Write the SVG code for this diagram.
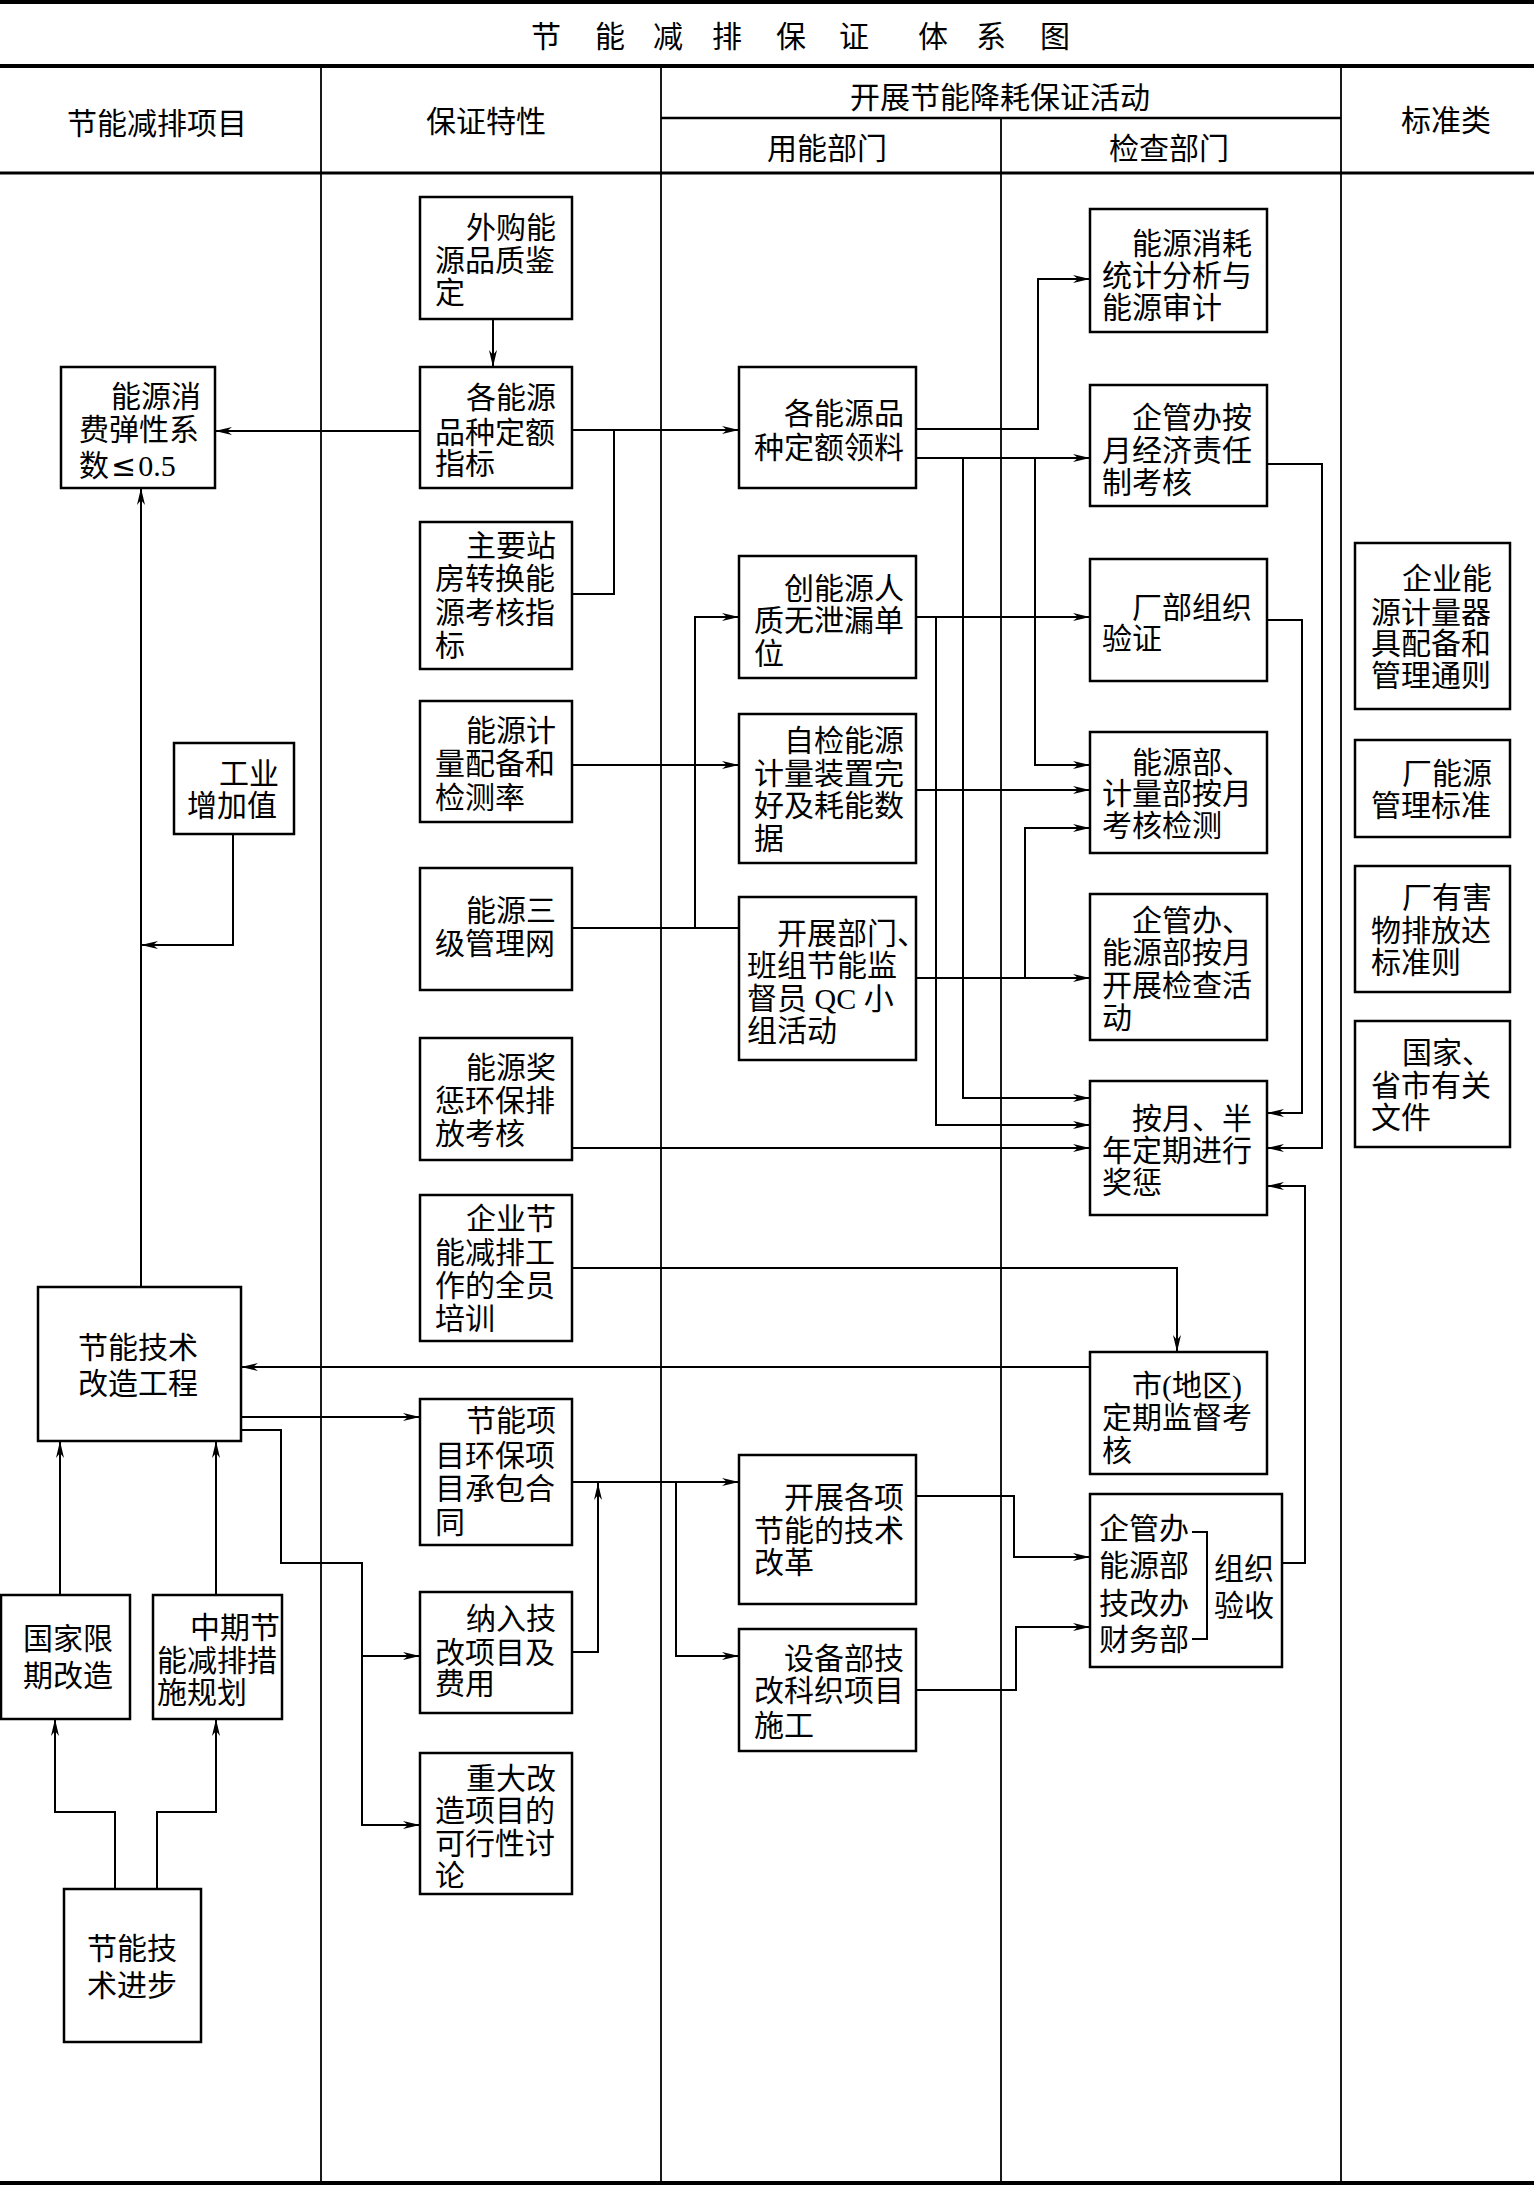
<svg xmlns="http://www.w3.org/2000/svg" width="1534" height="2186" viewBox="0 0 1534 2186">
<style>
text{font-family:"Liberation Serif","Noto Sans CJK SC",serif;font-size:30px;fill:#000}
.hd{font-size:30px}
.sym{font-family:"DejaVu Sans",sans-serif}
.box{fill:#fff;stroke:#000;stroke-width:2.5}
.frame{stroke:#000;fill:none}
.cn{fill:none;stroke:#000;stroke-width:2}
.ar{fill:none;stroke:#000;stroke-width:2;marker-end:url(#ah)}
</style>
<defs>
<marker id="ah" markerWidth="18" markerHeight="8" refX="17" refY="4" orient="auto" markerUnits="userSpaceOnUse">
<path d="M0,0 L17,4 L0,8 L5,4 z" fill="#000"/>
</marker>
</defs>
<rect width="1534" height="2186" fill="#fff"/>

<g id="frame">
<line class="frame" x1="0" y1="2" x2="1534" y2="2" stroke-width="4"/>
<line class="frame" x1="0" y1="66" x2="1534" y2="66" stroke-width="4"/>
<line class="frame" x1="661" y1="118" x2="1341" y2="118" stroke-width="2.5"/>
<line class="frame" x1="0" y1="173" x2="1534" y2="173" stroke-width="3"/>
<line class="frame" x1="0" y1="2183" x2="1534" y2="2183" stroke-width="4"/>
<line class="frame" x1="321" y1="66" x2="321" y2="2183" stroke-width="1.8"/>
<line class="frame" x1="661" y1="66" x2="661" y2="2183" stroke-width="1.8"/>
<line class="frame" x1="1001" y1="118" x2="1001" y2="2183" stroke-width="1.8"/>
<line class="frame" x1="1341" y1="66" x2="1341" y2="2183" stroke-width="1.8"/>
<text x="531 595 653 712 776 839 918 976 1040" y="47" font-size="28">节能减排保证体系图</text>
<text class="hd" x="157" y="134" text-anchor="middle">节能减排项目</text>
<text class="hd" x="486" y="132" text-anchor="middle">保证特性</text>
<text class="hd" x="1000" y="108" text-anchor="middle">开展节能降耗保证活动</text>
<text class="hd" x="827" y="159" text-anchor="middle">用能部门</text>
<text class="hd" x="1169" y="159" text-anchor="middle">检查部门</text>
<text class="hd" x="1446" y="131" text-anchor="middle">标准类</text>
</g>

<g id="connectors">
<path class="ar" d="M493,319 V367"/>
<path class="ar" d="M420,431 H215"/>
<path class="ar" d="M572,430 H739"/>
<path class="cn" d="M572,594 H614 V430"/>
<path class="ar" d="M916,429 H1038 V279 H1090"/>
<path class="ar" d="M916,458 H1090"/>
<path class="ar" d="M963,458 V1098 H1090"/>
<path class="ar" d="M1035,458 V765 H1090"/>
<path class="ar" d="M1267,464 H1322 V1148 H1267"/>
<path class="ar" d="M1267,620 H1302 V1113 H1267"/>
<path class="ar" d="M916,617 H1090"/>
<path class="ar" d="M936,617 V1125 H1090"/>
<path class="ar" d="M572,928 H695 V617 H739"/>
<path class="cn" d="M695,928 H739"/>
<path class="ar" d="M572,765 H739"/>
<path class="ar" d="M916,790 H1090"/>
<path class="ar" d="M916,978 H1090"/>
<path class="ar" d="M1025,978 V828 H1090"/>
<path class="ar" d="M572,1148 H1090"/>
<path class="ar" d="M1282,1563 H1305 V1186 H1267"/>
<path class="ar" d="M572,1268 H1177 V1352"/>
<path class="ar" d="M1090,1367 H241"/>
<path class="ar" d="M141,1287 V488"/>
<path class="ar" d="M233,834 V945 H141"/>
<path class="ar" d="M241,1417 H420"/>
<path class="ar" d="M241,1430 H281 V1563 H362 V1825 H420"/>
<path class="ar" d="M362,1656 H420"/>
<path class="ar" d="M572,1652 H598 V1483"/>
<path class="ar" d="M572,1482 H739"/>
<path class="ar" d="M676,1482 V1656 H739"/>
<path class="ar" d="M916,1496 H1014 V1557 H1090"/>
<path class="ar" d="M916,1690 H1016 V1627 H1090"/>
<path class="ar" d="M60,1595 V1441"/>
<path class="ar" d="M216,1595 V1441"/>
<path class="ar" d="M115,1889 V1812 H55 V1719"/>
<path class="ar" d="M157,1889 V1812 H216 V1719"/>
</g>

<g id="n_ec"><rect class="box" x="61" y="367" width="154" height="121"/>
<text><tspan x="111" y="407">能源消</tspan><tspan x="79" y="440">费弹性系</tspan><tspan x="79" y="476">数</tspan><tspan class="sym" dx="2">≤</tspan><tspan dx="2">0.5</tspan></text></g>
<g id="n_gy"><rect class="box" x="174" y="743" width="120" height="91"/>
<text><tspan x="219" y="784">工业</tspan><tspan x="187" y="816">增加值</tspan></text></g>
<g id="n_jg"><rect class="box" x="38" y="1287" width="203" height="154"/>
<text><tspan x="78" y="1358">节能技术</tspan><tspan x="78" y="1394">改造工程</tspan></text></g>
<g id="n_gj"><rect class="box" x="1" y="1595" width="129" height="124"/>
<text><tspan x="23" y="1649">国家限</tspan><tspan x="23" y="1686">期改造</tspan></text></g>
<g id="n_zq"><rect class="box" x="153" y="1595" width="129" height="124"/>
<text><tspan x="190" y="1638">中期节</tspan><tspan x="157" y="1671">能减排措</tspan><tspan x="157" y="1703">施规划</tspan></text></g>
<g id="n_jb"><rect class="box" x="64" y="1889" width="137" height="153"/>
<text text-anchor="middle"><tspan x="132" y="1959">节能技</tspan><tspan x="132" y="1996">术进步</tspan></text></g>

<g id="n_wg"><rect class="box" x="420" y="197" width="152" height="122"/>
<text><tspan x="466" y="238">外购能</tspan><tspan x="435" y="271">源品质鉴</tspan><tspan x="435" y="303">定</tspan></text></g>
<g id="n_gn"><rect class="box" x="420" y="367" width="152" height="121"/>
<text><tspan x="466" y="408">各能源</tspan><tspan x="435" y="443">品种定额</tspan><tspan x="435" y="474">指标</tspan></text></g>
<g id="n_zy"><rect class="box" x="420" y="522" width="152" height="147"/>
<text><tspan x="466" y="556">主要站</tspan><tspan x="435" y="589">房转换能</tspan><tspan x="435" y="623">源考核指</tspan><tspan x="435" y="656">标</tspan></text></g>
<g id="n_jl"><rect class="box" x="420" y="701" width="152" height="121"/>
<text><tspan x="466" y="741">能源计</tspan><tspan x="435" y="774">量配备和</tspan><tspan x="435" y="808">检测率</tspan></text></g>
<g id="n_sj"><rect class="box" x="420" y="868" width="152" height="122"/>
<text><tspan x="466" y="921">能源三</tspan><tspan x="435" y="954">级管理网</tspan></text></g>
<g id="n_jc"><rect class="box" x="420" y="1038" width="152" height="122"/>
<text><tspan x="466" y="1078">能源奖</tspan><tspan x="435" y="1111">惩环保排</tspan><tspan x="435" y="1144">放考核</tspan></text></g>
<g id="n_px"><rect class="box" x="420" y="1195" width="152" height="146"/>
<text><tspan x="466" y="1229">企业节</tspan><tspan x="435" y="1263">能减排工</tspan><tspan x="435" y="1296">作的全员</tspan><tspan x="435" y="1329">培训</tspan></text></g>
<g id="n_xm"><rect class="box" x="420" y="1399" width="152" height="146"/>
<text><tspan x="466" y="1431">节能项</tspan><tspan x="435" y="1466">目环保项</tspan><tspan x="435" y="1499">目承包合</tspan><tspan x="435" y="1533">同</tspan></text></g>
<g id="n_nr"><rect class="box" x="420" y="1592" width="152" height="121"/>
<text><tspan x="466" y="1629">纳入技</tspan><tspan x="435" y="1663">改项目及</tspan><tspan x="435" y="1694">费用</tspan></text></g>
<g id="n_zd"><rect class="box" x="420" y="1753" width="152" height="141"/>
<text><tspan x="466" y="1789">重大改</tspan><tspan x="435" y="1821">造项目的</tspan><tspan x="435" y="1854">可行性讨</tspan><tspan x="435" y="1886">论</tspan></text></g>

<g id="n_ll"><rect class="box" x="739" y="367" width="177" height="121"/>
<text><tspan x="784" y="424">各能源品</tspan><tspan x="754" y="458">种定额领料</tspan></text></g>
<g id="n_cn"><rect class="box" x="739" y="556" width="177" height="122"/>
<text><tspan x="784" y="599">创能源人</tspan><tspan x="754" y="631">质无泄漏单</tspan><tspan x="754" y="664">位</tspan></text></g>
<g id="n_zj"><rect class="box" x="739" y="714" width="177" height="149"/>
<text><tspan x="784" y="751">自检能源</tspan><tspan x="754" y="784">计量装置完</tspan><tspan x="754" y="816">好及耗能数</tspan><tspan x="754" y="849">据</tspan></text></g>
<g id="n_kz"><rect class="box" x="739" y="897" width="177" height="163"/>
<text><tspan x="777" y="944">开展部门、</tspan><tspan x="747" y="976">班组节能监</tspan><tspan x="747" y="1009">督员 QC 小</tspan><tspan x="747" y="1041">组活动</tspan></text></g>
<g id="n_gx"><rect class="box" x="739" y="1455" width="177" height="149"/>
<text><tspan x="784" y="1508">开展各项</tspan><tspan x="754" y="1541">节能的技术</tspan><tspan x="754" y="1573">改革</tspan></text></g>
<g id="n_sb"><rect class="box" x="739" y="1629" width="177" height="122"/>
<text><tspan x="784" y="1669">设备部技</tspan><tspan x="754" y="1701">改科织项目</tspan><tspan x="754" y="1736">施工</tspan></text></g>

<g id="n_xh"><rect class="box" x="1090" y="209" width="177" height="123"/>
<text><tspan x="1132" y="254">能源消耗</tspan><tspan x="1102" y="286">统计分析与</tspan><tspan x="1102" y="318">能源审计</tspan></text></g>
<g id="n_qg"><rect class="box" x="1090" y="385" width="177" height="121"/>
<text><tspan x="1132" y="428">企管办按</tspan><tspan x="1102" y="461">月经济责任</tspan><tspan x="1102" y="493">制考核</tspan></text></g>
<g id="n_cb"><rect class="box" x="1090" y="559" width="177" height="122"/>
<text><tspan x="1132" y="618">厂部组织</tspan><tspan x="1102" y="649">验证</tspan></text></g>
<g id="n_nb"><rect class="box" x="1090" y="732" width="177" height="121"/>
<text><tspan x="1132" y="773">能源部、</tspan><tspan x="1102" y="804">计量部按月</tspan><tspan x="1102" y="836">考核检测</tspan></text></g>
<g id="n_qn"><rect class="box" x="1090" y="894" width="177" height="146"/>
<text><tspan x="1132" y="931">企管办、</tspan><tspan x="1102" y="963">能源部按月</tspan><tspan x="1102" y="996">开展检查活</tspan><tspan x="1102" y="1028">动</tspan></text></g>
<g id="n_aj"><rect class="box" x="1090" y="1081" width="177" height="134"/>
<text><tspan x="1132" y="1129">按月、半</tspan><tspan x="1102" y="1161">年定期进行</tspan><tspan x="1102" y="1193">奖惩</tspan></text></g>
<g id="n_sd"><rect class="box" x="1090" y="1352" width="177" height="122"/>
<text><tspan x="1132" y="1396">市(地区)</tspan><tspan x="1102" y="1428">定期监督考</tspan><tspan x="1102" y="1461">核</tspan></text></g>
<g id="n_ys"><rect class="box" x="1090" y="1494" width="192" height="173"/>
<text><tspan x="1099" y="1539">企管办</tspan><tspan x="1099" y="1576">能源部</tspan><tspan x="1099" y="1614">技改办</tspan><tspan x="1099" y="1650">财务部</tspan></text>
<text><tspan x="1214" y="1579">组织</tspan><tspan x="1214" y="1616">验收</tspan></text>
<path class="cn" d="M1192,1532 H1207 V1639 H1192"/></g>

<g id="n_s1"><rect class="box" x="1355" y="543" width="155" height="166"/>
<text><tspan x="1402" y="589">企业能</tspan><tspan x="1371" y="623">源计量器</tspan><tspan x="1371" y="654">具配备和</tspan><tspan x="1371" y="686">管理通则</tspan></text></g>
<g id="n_s2"><rect class="box" x="1355" y="740" width="155" height="97"/>
<text><tspan x="1402" y="784">厂能源</tspan><tspan x="1371" y="816">管理标准</tspan></text></g>
<g id="n_s3"><rect class="box" x="1355" y="866" width="155" height="126"/>
<text><tspan x="1402" y="908">厂有害</tspan><tspan x="1371" y="941">物排放达</tspan><tspan x="1371" y="973">标准则</tspan></text></g>
<g id="n_s4"><rect class="box" x="1355" y="1021" width="155" height="126"/>
<text><tspan x="1402" y="1063">国家、</tspan><tspan x="1371" y="1096">省市有关</tspan><tspan x="1371" y="1128">文件</tspan></text></g>
</svg>
